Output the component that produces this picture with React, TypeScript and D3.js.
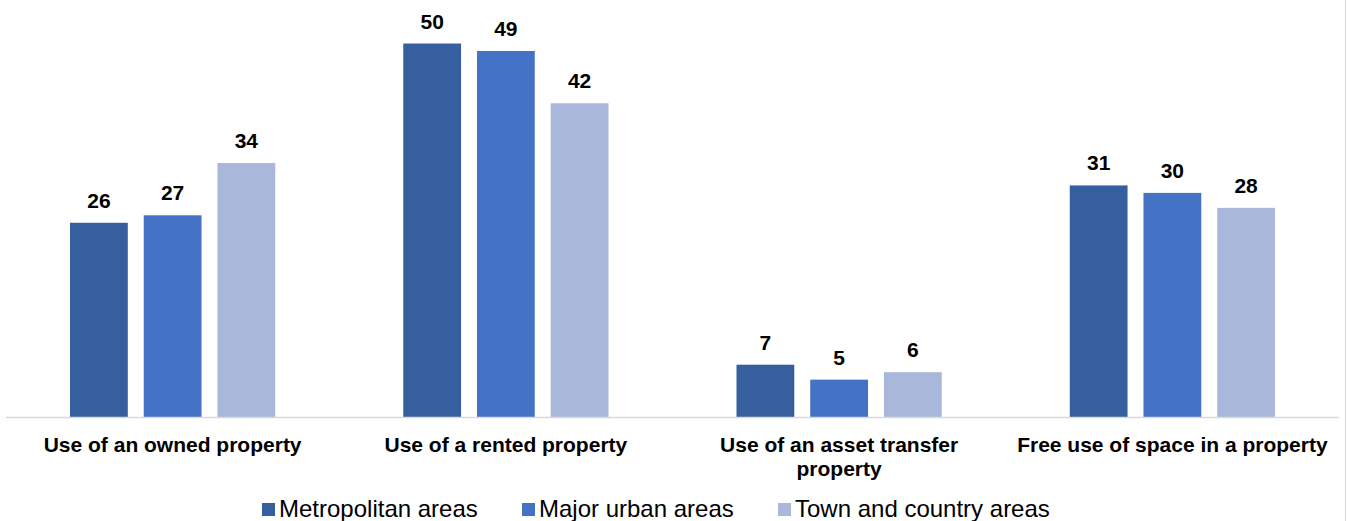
import React from "react";
import * as d3 from "d3";

const categories = [
  "Use of an owned property",
  "Use of a rented property",
  "Use of an asset transfer\nproperty",
  "Free use of space in a property",
];
const seriesNames = ["Metropolitan areas", "Major urban areas", "Town and country areas"];
const metropolitan = [26, 50, 7, 31];
const majorUrban = [27, 49, 5, 30];
const townCountry = [34, 42, 6, 28];
const seriesColors = ["#365F9F", "#4472C4", "#A9B7DA"];

const W = 1347;
const H = 521;
const FONT = "'Liberation Sans', Arial, Helvetica, sans-serif";

export default function App() {
  const seriesValues = [metropolitan, majorUrban, townCountry];
  const x0 = d3.scaleBand<string>().domain(categories).range([6, 1339]).padding(0);
  const x1 = d3
    .scaleBand<string>()
    .domain(seriesNames)
    .range([64, x0.bandwidth() - 64])
    .paddingInner(0.216)
    .paddingOuter(0);
  const y = d3.scaleLinear().domain([0, 50]).range([417, 43.5]);

  const legendSquareX = [262, 522, 778];

  return (
    <svg
      width={W}
      height={H}
      style={{ position: "absolute", left: 0, top: 0, background: "#fff" }}
      fontFamily={FONT}
    >
      <rect x={0} y={0} width={W} height={H} fill="#fff" />
      <line x1={1345.5} x2={1345.5} y1={0} y2={H} stroke="#d9d9d9" strokeWidth={1} />
      {categories.map((c, ci) => (
        <g key={c} transform={`translate(${x0(c)},0)`}>
          {seriesNames.map((s, si) => {
            const v = seriesValues[si][ci];
            const bx = x1(s)!;
            return (
              <g key={s}>
                <rect
                  x={bx}
                  y={y(v)}
                  width={x1.bandwidth()}
                  height={y(0) - y(v)}
                  fill={seriesColors[si]}
                />
                <text
                  x={bx + x1.bandwidth() / 2}
                  y={y(v) - 15}
                  textAnchor="middle"
                  fontSize={21}
                  fontWeight="bold"
                  fill="#000"
                >
                  {v}
                </text>
              </g>
            );
          })}
          {c.split("\n").map((line, li) => (
            <text
              key={li}
              x={x0.bandwidth() / 2}
              y={452 + li * 24}
              textAnchor="middle"
              fontSize={21}
              fontWeight="bold"
              fill="#000"
            >
              {line}
            </text>
          ))}
        </g>
      ))}
      <line x1={6} x2={1339} y1={417.5} y2={417.5} stroke="#d9d9d9" strokeWidth={1.5} />
      {seriesNames.map((s, si) => (
        <g key={s}>
          <rect x={legendSquareX[si]} y={503} width={13} height={13} fill={seriesColors[si]} />
          <text x={legendSquareX[si] + 17} y={517} fontSize={24} fill="#000">
            {s}
          </text>
        </g>
      ))}
    </svg>
  );
}
